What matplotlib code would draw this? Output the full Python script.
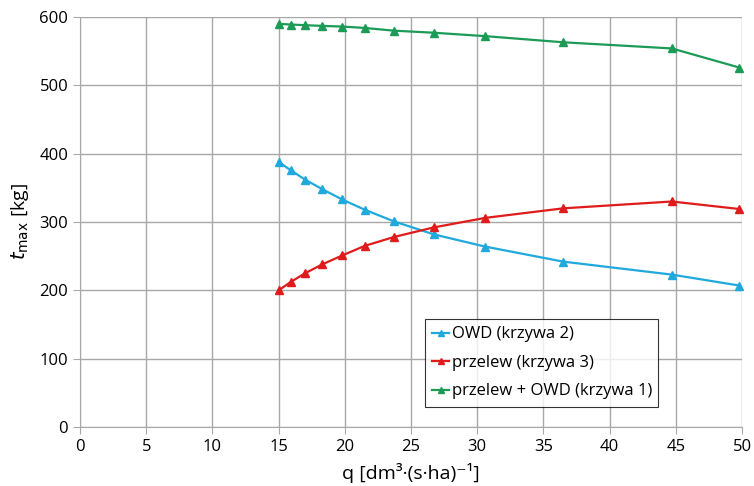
import matplotlib
matplotlib.use("Agg")
import matplotlib.pyplot as plt

plt.rcParams['font.family'] = ['Open Sans', 'DejaVu Sans']

q = [15, 15.9, 17, 18.3, 19.8, 21.5, 23.7, 26.7, 30.6, 36.5, 44.7, 49.8]
owd = [388, 376, 362, 348, 333, 318, 301, 282, 264, 242, 223, 207]
przelew = [200, 212, 225, 238, 251, 265, 278, 292, 306, 320, 330, 319]
suma = [590, 589, 588, 587, 586, 584, 580, 577, 572, 563, 554, 526]

labels = ["OWD (krzywa 2)", "przelew (krzywa 3)", "przelew + OWD (krzywa 1)"]
colors = ["#20a9dc", "#e01b1b", "#1c9b57"]

fig = plt.figure(figsize=(7.54, 4.86), dpi=100)
ax = fig.add_axes([80/754, 1-427/486, 662/754, 410/486])

for y, lab, c in zip([owd, przelew, suma], labels, colors):
    ax.plot(q, y, color=c, lw=1.6, marker='^', ms=6, label=lab, clip_on=False, zorder=3)

ax.set_xlim(0, 50)
ax.set_ylim(0, 600)
ax.set_xticks(range(0, 51, 5))
ax.set_yticks(range(0, 601, 100))
ax.grid(True, color='#a8a8a8', lw=1.0)
ax.set_axisbelow(True)
for s in ['top', 'right']:
    ax.spines[s].set_visible(False)
for s in ['left', 'bottom']:
    ax.spines[s].set_color('#a8a8a8')
ax.tick_params(axis='both', colors='#a8a8a8', labelcolor='black', labelsize=12, length=5)

ax.set_xlabel("q [dm³·(s·ha)⁻¹]", fontsize=14, labelpad=6)
ax.set_ylabel("$\\it{t}_{\\rm max}$ [kg]", fontsize=14, labelpad=6)

leg = ax.legend(loc='lower left', bbox_to_anchor=(0.521, 0.049, 0.352, 0.23), mode='expand',
                fontsize=12, frameon=True, fancybox=False, handlelength=1.0,
                handletextpad=0.2, borderpad=0.45, labelspacing=0.75, borderaxespad=0)
leg.get_frame().set_edgecolor('black')
leg.get_frame().set_linewidth(0.8)
for h in leg.legend_handles:
    h.set_markersize(4)

fig.savefig("out.png", dpi=100)
